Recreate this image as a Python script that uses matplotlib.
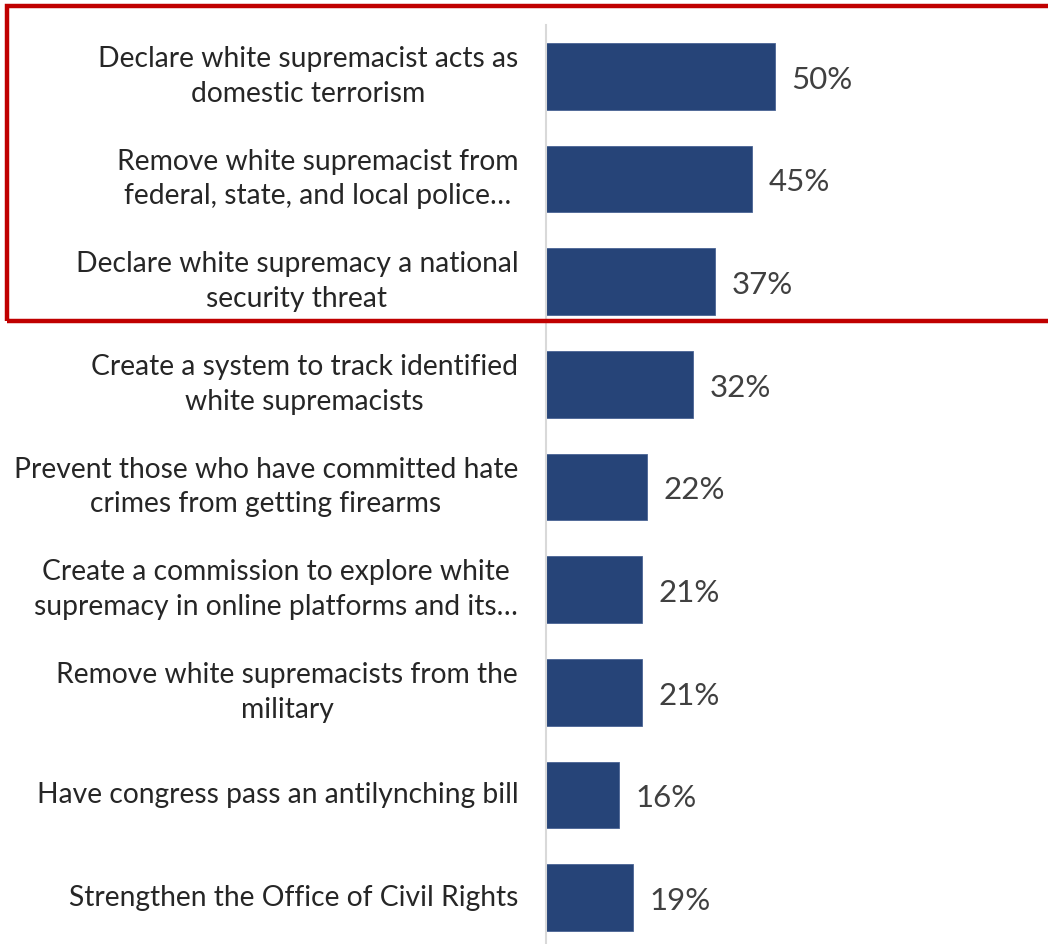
import matplotlib.pyplot as plt
from matplotlib.patches import Rectangle

categories = [
    "Declare white supremacist acts as\ndomestic terrorism",
    "Remove white supremacist from\nfederal, state, and local police\u2026",
    "Declare white supremacy a national\nsecurity threat",
    "Create a system to track identified\nwhite supremacists",
    "Prevent those who have committed hate\ncrimes from getting firearms",
    "Create a commission to explore white\nsupremacy in online platforms and its\u2026",
    "Remove white supremacists from the\nmilitary",
    "Have congress pass an antilynching bill",
    "Strengthen the Office of Civil Rights",
]
values = [50, 45, 37, 32, 22, 21, 21, 16, 19]

bar_color = "#264478"
plt.rcParams['font.family'] = ['Lato', 'DejaVu Sans']

fig = plt.figure(figsize=(10.48, 9.44), dpi=100)
ax = fig.add_axes([546 / 1048, -5 / 944, 502 / 1048, 924 / 944])

ypos = list(range(len(values)))
bars = ax.barh(ypos, values, height=0.65, color=bar_color, edgecolor="#4a6494", linewidth=0.6)
ax.set_ylim(len(values) - 0.5, -0.5)
ax.set_xlim(0, 502 / 4.58)

ax.set_yticks(ypos)
ax.set_yticklabels(categories, fontsize=20.3, color="#262626", multialignment="center",
                   linespacing=1.4, va="center")
ax.tick_params(axis="y", length=0, pad=20)
ax.set_xticks([])

for side in ["top", "right", "bottom"]:
    ax.spines[side].set_visible(False)
ax.spines["left"].set_color("#d9d9d9")
ax.spines["left"].set_linewidth(1.5)

value_texts = ax.bar_label(bars, labels=[f"{v}%" for v in values], padding=12,
                           fontsize=22.5, color="#404040")
for t in value_texts:
    t.xyann = (12, -2.5)  # labels sit a touch below bar centre

# red highlight box around top three
fig.patches.append(Rectangle((7 / 1048, 1 - 321 / 944), 1.0, 315 / 944, transform=fig.transFigure,
                             fill=False, edgecolor="#c00000", linewidth=3.2, clip_on=False))

fig.savefig("out.png", dpi=100)
